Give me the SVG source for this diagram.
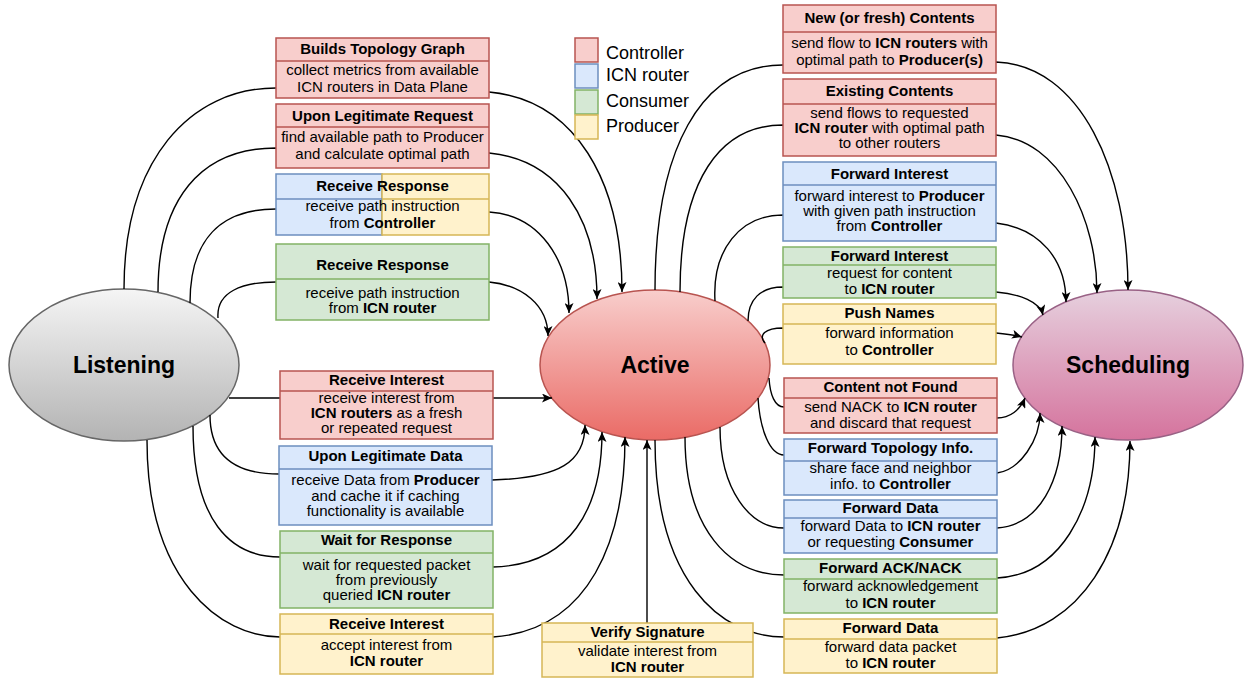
<svg xmlns="http://www.w3.org/2000/svg" width="1248" height="682" viewBox="0 0 1248 682">
<style>
.r{fill:#f8cecc;stroke:#b85450;stroke-width:1.5}
.b{fill:#dae8fc;stroke:#6c8ebf;stroke-width:1.5}
.g{fill:#d5e8d4;stroke:#82b366;stroke-width:1.5}
.y{fill:#fff2cc;stroke:#d6b656;stroke-width:1.5}
.h{font-family:"Liberation Sans",Arial,sans-serif;font-size:15px;font-weight:bold;text-anchor:middle;fill:#000}
.t{font-family:"Liberation Sans",Arial,sans-serif;font-size:15px;text-anchor:middle;fill:#000}
.k{font-weight:bold}
.lg{font-family:"Liberation Sans",Arial,sans-serif;font-size:18px;fill:#000}
.e{font-family:"Liberation Sans",Arial,sans-serif;font-size:23px;font-weight:bold;text-anchor:middle;fill:#000}
.c{fill:none;stroke:#000;stroke-width:1.4;marker-end:url(#a)}
</style>
<defs>
<marker id="a" markerUnits="userSpaceOnUse" markerWidth="11" markerHeight="9" refX="10" refY="4.5" orient="auto">
<path d="M0,0 L10,4.5 L0,9 L2.5,4.5 z" fill="#000"/>
</marker>
<linearGradient id="gl" x1="0" y1="0" x2="0" y2="1"><stop offset="0" stop-color="#f5f5f5"/><stop offset="1" stop-color="#b3b3b3"/></linearGradient>
<linearGradient id="ga" x1="0" y1="0" x2="0" y2="1"><stop offset="0" stop-color="#f8cecc"/><stop offset="1" stop-color="#ea6b66"/></linearGradient>
<linearGradient id="gs" x1="0" y1="0" x2="0" y2="1"><stop offset="0" stop-color="#e6d0de"/><stop offset="1" stop-color="#d5739d"/></linearGradient>
</defs>

<g id="listening">
<ellipse cx="124" cy="365" rx="115" ry="76" fill="url(#gl)" stroke="#666666" stroke-width="1.5"/>
<text class="e" x="124" y="373">Listening</text>
</g>
<g id="active">
<ellipse cx="655" cy="365" rx="115" ry="75" fill="url(#ga)" stroke="#b85450" stroke-width="1.5"/>
<text class="e" x="655" y="373">Active</text>
</g>
<g id="scheduling">
<ellipse cx="1128" cy="365" rx="115" ry="75" fill="url(#gs)" stroke="#996185" stroke-width="1.5"/>
<text class="e" x="1128" y="373">Scheduling</text>
</g>

<g id="connectors">
<path class="c" d="M124,289 C124,160 190,88 276,88 L489,92 C575,100 622,180 622,292"/>
<path class="c" d="M158,292 C158,200 200,148 276,148 L489,153 C560,160 597,220 597,299"/>
<path class="c" d="M190,303 C190,240 220,209 276,209 L489,212 C540,215 569,260 569,313"/>
<path class="c" d="M218,318 C216,292 242,282 276,282 L489,282 C522,285 548,305 548,336"/>
<path class="c" d="M229,398 L552,398"/>
<path class="c" d="M210,415 C210,460 240,474 279,474 L492,480 C560,478 585,462 585,425"/>
<path class="c" d="M193,426 C193,520 230,557 280,557 L493,567 C570,565 602,510 602,432"/>
<path class="c" d="M147,440 C147,580 220,637 280,637 L493,637 C590,630 625,540 625,437"/>
<path class="c" d="M647,623 L647,440"/>
<path class="c" d="M655,290 C655,150 700,65 783,65 L996,62 C1080,65 1128,170 1128,290"/>
<path class="c" d="M680,292 C680,180 720,125 783,125 L996,135 C1060,140 1097,220 1097,293"/>
<path class="c" d="M715,301 C712,250 740,215 783,215 L996,223 C1040,228 1066,260 1066,302"/>
<path class="c" d="M748,321 C748,300 760,287 783,287 L996,292 C1020,294 1040,302 1043,315"/>
<path class="c" d="M765,343 C758,335 765,328 783,328 L996,333 C1006,334 1015,335 1022,337"/>
<path class="c" d="M769,378 C770,395 775,407 784,407 L997,418 C1010,418 1020,410 1025,398"/>
<path class="c" d="M758,398 C760,430 770,455 784,455 L997,473 C1020,470 1040,440 1040,413"/>
<path class="c" d="M720,427 C720,490 750,528 784,528 L997,528 C1040,525 1062,480 1062,426"/>
<path class="c" d="M685,437 C685,530 730,575 784,575 L997,578 C1060,575 1095,510 1095,437"/>
<path class="c" d="M655,440 C655,580 720,637 784,637 L997,638 C1080,630 1130,550 1130,441"/>
</g>

<g id="legend">
<rect class="r" x="575" y="38" width="23" height="24"/>
<rect class="b" x="575" y="64" width="23" height="24"/>
<rect class="g" x="575" y="90" width="23" height="24"/>
<rect class="y" x="575" y="115" width="23" height="24"/>
<text class="lg" x="606" y="58.5">Controller</text>
<text class="lg" x="606" y="81">ICN router</text>
<text class="lg" x="606" y="106.5">Consumer</text>
<text class="lg" x="606" y="132">Producer</text>
</g>

<g id="builds-topology-graph">
<rect class="r" x="276" y="38" width="213" height="60"/>
<line class="r" x1="276" y1="61" x2="489" y2="61"/>
<text class="h" x="382.5" y="53.5">Builds Topology Graph</text>
<text class="t" x="382.5" y="75">collect metrics from available</text>
<text class="t" x="382.5" y="91.5">ICN routers in Data Plane</text>
</g>
<g id="upon-legitimate-request">
<rect class="r" x="276" y="104" width="213" height="64"/>
<line class="r" x1="276" y1="127" x2="489" y2="127"/>
<text class="h" x="382.5" y="121">Upon Legitimate Request</text>
<text class="t" x="382.5" y="142">find available path to Producer</text>
<text class="t" x="382.5" y="159">and calculate optimal path</text>
</g>
<g id="receive-response-controller">
<rect class="b" x="276" y="174" width="106" height="61"/>
<rect class="y" x="382" y="174" width="107" height="61"/>
<line class="b" x1="276" y1="199" x2="382" y2="199"/>
<line class="y" x1="382" y1="199" x2="489" y2="199"/>
<text class="h" x="382.5" y="191">Receive Response</text>
<text class="t" x="382.5" y="211">receive path instruction</text>
<text class="t" x="382.5" y="227.5">from <tspan class="k">Controller</tspan></text>
</g>
<g id="receive-response-icn">
<rect class="g" x="276" y="244" width="213" height="76"/>
<line class="g" x1="276" y1="279" x2="489" y2="279"/>
<text class="h" x="382.5" y="270">Receive Response</text>
<text class="t" x="382.5" y="297.5">receive path instruction</text>
<text class="t" x="382.5" y="313">from <tspan class="k">ICN router</tspan></text>
</g>
<g id="receive-interest-controller">
<rect class="r" x="280" y="371" width="213" height="68"/>
<line class="r" x1="280" y1="391" x2="493" y2="391"/>
<text class="h" x="386.5" y="385">Receive Interest</text>
<text class="t" x="386.5" y="403">receive interest from</text>
<text class="t" x="386.5" y="418"><tspan class="k">ICN routers</tspan> as a fresh</text>
<text class="t" x="386.5" y="433">or repeated request</text>
</g>
<g id="upon-legitimate-data">
<rect class="b" x="279" y="446" width="213" height="79"/>
<line class="b" x1="279" y1="469" x2="492" y2="469"/>
<text class="h" x="385.5" y="460.5">Upon Legitimate Data</text>
<text class="t" x="385.5" y="485">receive Data from <tspan class="k">Producer</tspan></text>
<text class="t" x="385.5" y="500.5">and cache it if caching</text>
<text class="t" x="385.5" y="516">functionality is available</text>
</g>
<g id="wait-for-response">
<rect class="g" x="280" y="531" width="213" height="77"/>
<line class="g" x1="280" y1="553" x2="493" y2="553"/>
<text class="h" x="386.5" y="545">Wait for Response</text>
<text class="t" x="386.5" y="570">wait for requested packet</text>
<text class="t" x="386.5" y="585">from previously</text>
<text class="t" x="386.5" y="600">queried <tspan class="k">ICN router</tspan></text>
</g>
<g id="receive-interest-producer">
<rect class="y" x="280" y="614" width="213" height="60"/>
<line class="y" x1="280" y1="634" x2="493" y2="634"/>
<text class="h" x="386.5" y="629">Receive Interest</text>
<text class="t" x="386.5" y="650">accept interest from</text>
<text class="t" x="386.5" y="666"><tspan class="k">ICN router</tspan></text>
</g>
<g id="verify-signature">
<rect class="y" x="542" y="623" width="211" height="54"/>
<line class="y" x1="542" y1="642" x2="753" y2="642"/>
<text class="h" x="647.5" y="636.5">Verify Signature</text>
<text class="t" x="647.5" y="655.5">validate interest from</text>
<text class="t" x="647.5" y="671.5"><tspan class="k">ICN router</tspan></text>
</g>

<g id="new-contents">
<rect class="r" x="783" y="5" width="213" height="68"/>
<line class="r" x1="783" y1="32" x2="996" y2="32"/>
<text class="h" x="889.5" y="23">New (or fresh) Contents</text>
<text class="t" x="889.5" y="48">send flow to <tspan class="k">ICN routers</tspan> with</text>
<text class="t" x="889.5" y="65">optimal path to <tspan class="k">Producer(s)</tspan></text>
</g>
<g id="existing-contents">
<rect class="r" x="783" y="79" width="213" height="77"/>
<line class="r" x1="783" y1="104" x2="996" y2="104"/>
<text class="h" x="889.5" y="95.5">Existing Contents</text>
<text class="t" x="889.5" y="118">send flows to requested</text>
<text class="t" x="889.5" y="133"><tspan class="k">ICN router</tspan> with optimal path</text>
<text class="t" x="889.5" y="148">to other routers</text>
</g>
<g id="forward-interest-icn">
<rect class="b" x="783" y="162" width="213" height="79"/>
<line class="b" x1="783" y1="185" x2="996" y2="185"/>
<text class="h" x="889.5" y="179">Forward Interest</text>
<text class="t" x="889.5" y="201">forward interest to <tspan class="k">Producer</tspan></text>
<text class="t" x="889.5" y="216">with given path instruction</text>
<text class="t" x="889.5" y="231">from <tspan class="k">Controller</tspan></text>
</g>
<g id="forward-interest-consumer">
<rect class="g" x="783" y="247" width="213" height="51"/>
<line class="g" x1="783" y1="265" x2="996" y2="265"/>
<text class="h" x="889.5" y="260.5">Forward Interest</text>
<text class="t" x="889.5" y="278">request for content</text>
<text class="t" x="889.5" y="294">to <tspan class="k">ICN router</tspan></text>
</g>
<g id="push-names">
<rect class="y" x="783" y="304" width="213" height="60"/>
<line class="y" x1="783" y1="324" x2="996" y2="324"/>
<text class="h" x="889.5" y="318">Push Names</text>
<text class="t" x="889.5" y="338">forward information</text>
<text class="t" x="889.5" y="355">to <tspan class="k">Controller</tspan></text>
</g>
<g id="content-not-found">
<rect class="r" x="784" y="378" width="213" height="55"/>
<line class="r" x1="784" y1="398" x2="997" y2="398"/>
<text class="h" x="890.5" y="392">Content not Found</text>
<text class="t" x="890.5" y="411.5">send NACK to <tspan class="k">ICN router</tspan></text>
<text class="t" x="890.5" y="427.5">and discard that request</text>
</g>
<g id="forward-topology-info">
<rect class="b" x="784" y="439" width="213" height="56"/>
<line class="b" x1="784" y1="461" x2="997" y2="461"/>
<text class="h" x="890.5" y="453">Forward Topology Info.</text>
<text class="t" x="890.5" y="473">share face and neighbor</text>
<text class="t" x="890.5" y="489">info. to <tspan class="k">Controller</tspan></text>
</g>
<g id="forward-data-icn">
<rect class="b" x="784" y="500" width="213" height="53"/>
<line class="b" x1="784" y1="518" x2="997" y2="518"/>
<text class="h" x="890.5" y="513">Forward Data</text>
<text class="t" x="890.5" y="531">forward Data to <tspan class="k">ICN router</tspan></text>
<text class="t" x="890.5" y="546.5">or requesting <tspan class="k">Consumer</tspan></text>
</g>
<g id="forward-ack-nack">
<rect class="g" x="784" y="559" width="213" height="54"/>
<line class="g" x1="784" y1="579" x2="997" y2="579"/>
<text class="h" x="890.5" y="573">Forward ACK/NACK</text>
<text class="t" x="890.5" y="591">forward acknowledgement</text>
<text class="t" x="890.5" y="607.5">to <tspan class="k">ICN router</tspan></text>
</g>
<g id="forward-data-producer">
<rect class="y" x="784" y="619" width="213" height="54"/>
<line class="y" x1="784" y1="639" x2="997" y2="639"/>
<text class="h" x="890.5" y="633">Forward Data</text>
<text class="t" x="890.5" y="651.5">forward data packet</text>
<text class="t" x="890.5" y="667.5">to <tspan class="k">ICN router</tspan></text>
</g>
</svg>
